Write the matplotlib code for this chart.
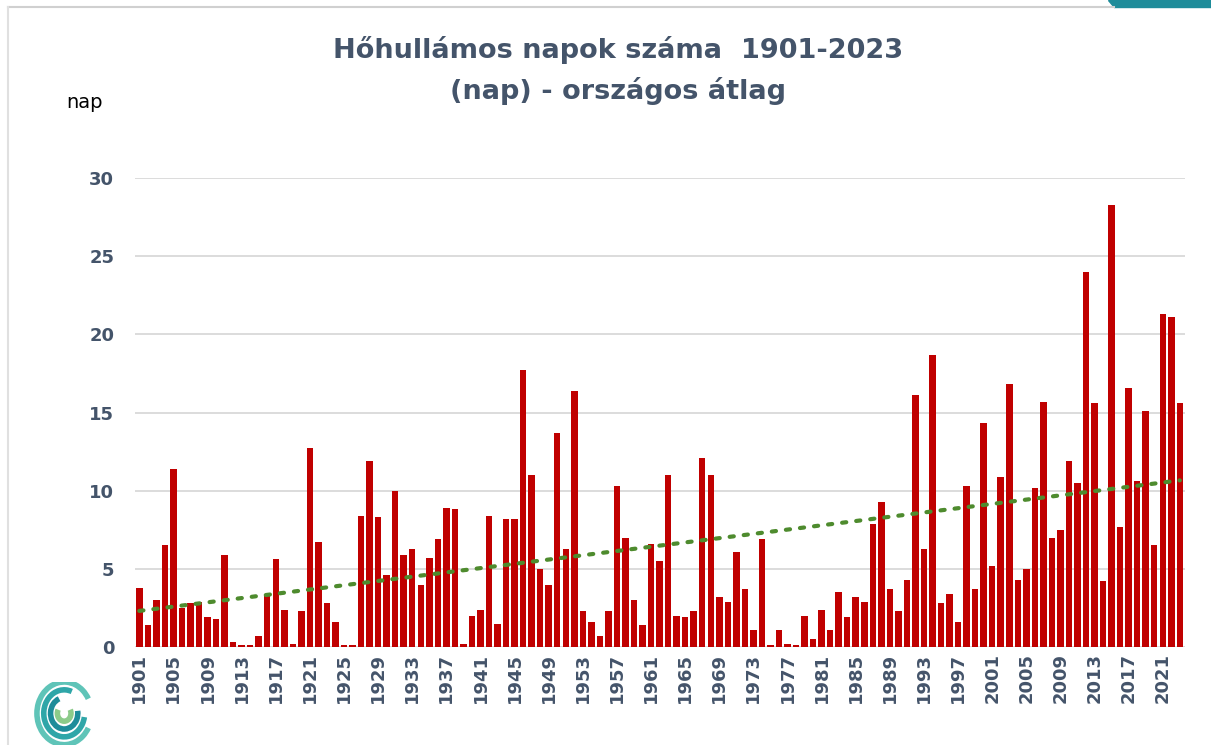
import matplotlib
matplotlib.use('Agg')
import matplotlib.pyplot as plt
from matplotlib.patches import Arc, Polygon
import numpy as np

# data (days per year)
years = np.arange(1901, 2024)
days = [3.8, 1.4, 3.0, 6.5, 11.4, 2.5, 2.8, 2.9, 1.9, 1.8,
        5.9, 0.3, 0.1, 0.1, 0.7, 3.3, 5.6, 2.4, 0.2, 2.3,
        12.7, 6.7, 2.8, 1.6, 0.1, 0.1, 8.4, 11.9, 8.3, 4.6,
        10.0, 5.9, 6.3, 4.0, 5.7, 6.9, 8.9, 8.8, 0.2, 2.0,
        2.4, 8.4, 1.5, 8.2, 8.2, 17.7, 11.0, 5.0, 4.0, 13.7,
        6.3, 16.4, 2.3, 1.6, 0.7, 2.3, 10.3, 7.0, 3.0, 1.4,
        6.6, 5.5, 11.0, 2.0, 1.9, 2.3, 12.1, 11.0, 3.2, 2.9,
        6.1, 3.7, 1.1, 6.9, 0.1, 1.1, 0.2, 0.1, 2.0, 0.5,
        2.4, 1.1, 3.5, 1.9, 3.2, 2.9, 7.9, 9.3, 3.7, 2.3,
        4.3, 16.1, 6.3, 18.7, 2.8, 3.4, 1.6, 10.3, 3.7, 14.3,
        5.2, 10.9, 16.8, 4.3, 5.0, 10.2, 15.7, 7.0, 7.5, 11.9,
        10.5, 24.0, 15.6, 4.2, 28.3, 7.7, 16.6, 10.6, 15.1, 6.5,
        21.3, 21.1, 15.6]
tick_years = np.arange(1901, 2024, 4)
yticks = [0, 5, 10, 15, 20, 25, 30]

title = 'Hőhullámos napok száma  1901-2023\n(nap) - országos átlag'
navy = '#44546A'
fam = ['DejaVu Sans']

fig = plt.figure(figsize=(12.11, 7.45), dpi=100)
ax = fig.add_axes([0.1115, 0.1315, 0.867, 0.6295])

ax.bar(years, days, width=0.76, color='#C00000', zorder=3)

# linear trend line like the excel one
k, b = np.polyfit(years, days, 1)
ax.plot(years, k * years + b, linestyle=(0, (1, 2.4)), color='#4E8B2E',
        linewidth=3, dash_capstyle='round', zorder=4)

ax.set_xlim(1900.5, 2023.6)
ax.set_ylim(0, 30)
ax.set_yticks(yticks)
ax.set_xticks(tick_years)
ax.set_xticklabels([str(y) for y in tick_years], rotation=90, family=fam,
                   fontsize=13, fontweight='bold', color=navy)
ax.set_yticklabels([str(v) for v in yticks], family=fam, fontsize=13,
                   fontweight='bold', color=navy)
ax.tick_params(length=0, pad=4)
ax.tick_params(axis='y', pad=15)
ax.grid(axis='y', color='#D9D9D9', linewidth=1.3, zorder=0)
for s in ax.spines.values():
    s.set_visible(False)

fig.text(0.51, 0.905, title, ha='center', va='center', family=fam,
         fontsize=19.5, fontweight='bold', color=navy, linespacing=1.6)
fig.text(0.055, 0.862, 'nap', family=fam, fontsize=14, color='black',
         va='center')

# frame lines and corner decoration
fig.add_artist(plt.Line2D([0.007, 0.92], [0.99, 0.99], color='#D0D0D0', lw=1.5))
fig.add_artist(plt.Line2D([0.007, 0.007], [0.99, 0.0], color='#E0E0E0', lw=1.5))
fig.add_artist(Polygon([[0.915, 1.0], [1.0, 1.0], [1.0, 0.99], [0.92, 0.99]],
                       closed=True, color='#1E8C9A', transform=fig.transFigure))

# rough logo at bottom left
lax = fig.add_axes([0.028, 0.0, 0.05, 0.085])
lax.set_xlim(-1, 1)
lax.set_ylim(-1, 1)
lax.axis('off')
cols = ['#5FC4B8', '#2FA6A8', '#1E8C9A', '#8CCB8A']
for i, r in enumerate([1.8, 1.35, 0.9, 0.45]):
    lax.add_patch(Arc((0, 0), r, r * 1.1, theta1=30 + i * 40, theta2=330 + i * 20,
                      color=cols[i], lw=4))

fig.savefig('out.png', dpi=100)
